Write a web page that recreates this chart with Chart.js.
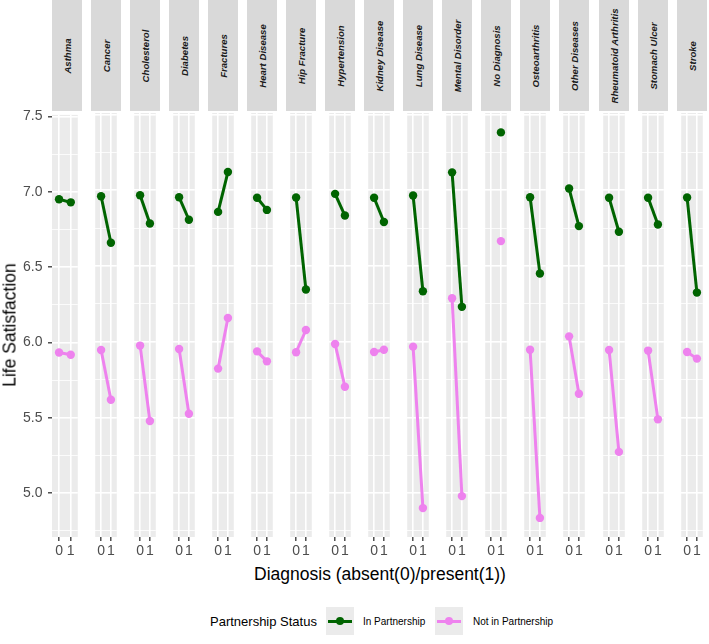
<!DOCTYPE html>
<html><head><meta charset="utf-8">
<script src="https://cdn.jsdelivr.net/npm/chart.js@4.4.0/dist/chart.umd.min.js"></script>
<style>
body{margin:0;background:#fff;overflow:hidden;font-family:"Liberation Sans",Arial,sans-serif;}
#wrap{position:relative;width:709px;height:644px;background:#fff;}
.strip{position:absolute;top:0;height:111px;background:#D9D9D9;}
.strip span{position:absolute;left:50%;top:50%;transform:translate(-50%,-50%) rotate(-90deg);white-space:nowrap;font-style:italic;font-weight:bold;font-size:9.6px;color:#1A1A1A;}
canvas{position:absolute;}
.ctr{position:absolute;white-space:nowrap;transform:translate(-50%,-50%);}
.lab{position:absolute;white-space:nowrap;transform:translateY(-50%);}
.key{position:absolute;width:28px;height:28px;background:#EBEBEB;}
.key .ln{position:absolute;left:2px;right:2px;top:12.5px;height:3px;}
.key .pt{position:absolute;left:9.8px;top:9.8px;width:8.4px;height:8.4px;border-radius:50%;}
</style>
</head>
<body>
<div id="wrap"></div>
<script>
// ---- data ----
const diagnoses = ["Asthma","Cancer","Cholesterol","Diabetes","Fractures","Heart Disease","Hip Fracture","Hypertension","Kidney Disease","Lung Disease","Mental Disorder","No Diagnosis","Osteoarthritis","Other Diseases","Rheumatoid Arthritis","Stomach Ulcer","Stroke"];
const xLevels = [0, 1];
const xTickLabels = ["0", "1"];
const seriesNames = ["In Partnership", "Not in Partnership"];
const inPartnershipAbsent  = [6.950,6.960,6.967,6.954,6.857,6.950,6.952,6.976,6.950,6.965,7.118,null,6.954,7.011,6.950,6.950,6.952];
const inPartnershipPresent = [6.930,6.653,6.780,6.805,7.120,6.870,6.344,6.833,6.790,6.333,6.230,7.382,6.450,6.763,6.726,6.774,6.324];
const notPartnershipAbsent  = [5.934,5.945,5.974,5.952,5.822,5.936,5.930,5.985,5.932,5.967,6.287,null,5.947,6.035,5.945,5.941,5.932];
const notPartnershipPresent = [5.919,5.616,5.476,5.524,6.156,5.870,6.077,5.702,5.947,4.901,4.980,6.664,4.836,5.656,5.272,5.487,5.888];
const yMajorTicks = [5.0, 5.5, 6.0, 6.5, 7.0, 7.5];
const yMinorTicks = [4.75, 5.25, 5.75, 6.25, 6.75, 7.25];
const yLimits = [4.71, 7.51];
const xLimits = [-0.6, 1.6];

// ---- layout ----
const FONT = '"Liberation Sans", Arial, sans-serif';
const GREEN = '#006400', VIOLET = '#EE82EE';
const PANEL_TOP = 113, PANEL_H = 424, PANEL_W = 30;
const FIRST_LEFT = 51.7, STEP = 39.06;
const PAD_T = 12, XAXIS_H = 26, YAXIS_W = 52;
const wrap = document.getElementById('wrap');
const isMajor = v => yMajorTicks.some(m => Math.abs(m - v) < 1e-9);

const bgPlugin = {
  id: 'panelBg',
  beforeDraw(chart) {
    const a = chart.chartArea, c = chart.ctx;
    c.save(); c.fillStyle = '#EBEBEB';
    c.fillRect(a.left, a.top, a.right - a.left, a.bottom - a.top);
    c.restore();
  }
};

function pts(abs, pres, i) {
  const vals = [abs[i], pres[i]];
  return xLevels.map((x, k) => ({x: x, y: vals[k]})).filter(p => p.y !== null);
}

diagnoses.forEach((name, i) => {
  const left = Math.round(FIRST_LEFT + i * STEP);
  // strip
  const s = document.createElement('div');
  s.className = 'strip';
  s.style.left = left + 'px'; s.style.width = PANEL_W + 'px';
  const sp = document.createElement('span'); sp.textContent = name;
  s.appendChild(sp); wrap.appendChild(s);

  const first = i === 0;
  const cv = document.createElement('canvas');
  const w = PANEL_W + (first ? YAXIS_W : 0), h = PAD_T + PANEL_H + XAXIS_H;
  cv.width = w; cv.height = h;
  cv.style.width = w + 'px'; cv.style.height = h + 'px';
  cv.style.left = (left - (first ? YAXIS_W : 0)) + 'px';
  cv.style.top = (PANEL_TOP - PAD_T) + 'px';
  wrap.appendChild(cv);

  const ds = (label, color, a, b) => ({
    label, data: pts(a, b, i), showLine: true,
    borderColor: color, backgroundColor: color, borderWidth: 3,
    pointRadius: 4.2, pointHoverRadius: 4.2, pointBorderWidth: 0, clip: false
  });

  new Chart(cv, {
    type: 'scatter',
    data: { datasets: [
      ds(seriesNames[0], GREEN, inPartnershipAbsent, inPartnershipPresent),
      ds(seriesNames[1], VIOLET, notPartnershipAbsent, notPartnershipPresent)
    ]},
    options: {
      responsive: false, animation: false, devicePixelRatio: 1, events: [],
      layout: { padding: { top: PAD_T, left: 0, right: 0, bottom: 0 } },
      plugins: { legend: { display: false }, tooltip: { enabled: false } },
      scales: {
        x: {
          type: 'linear', min: xLimits[0], max: xLimits[1],
          afterBuildTicks: sc => { sc.ticks = xLevels.map(v => ({value: v})); },
          afterFit: sc => { sc.height = XAXIS_H; },
          border: { display: false },
          grid: { color: '#FFFFFF', lineWidth: 1.6, tickLength: 4, tickColor: '#333333', tickWidth: 1.3 },
          ticks: { autoSkip: false, maxRotation: 0, minRotation: 0, padding: 2, color: '#4D4D4D',
                   font: { family: FONT, size: 14 },
                   callback: v => xTickLabels[xLevels.indexOf(v)] }
        },
        y: {
          type: 'linear', min: yLimits[0], max: yLimits[1],
          afterBuildTicks: sc => { sc.ticks = yMinorTicks.concat(yMajorTicks).sort((a,b)=>a-b).map(v => ({value: v})); },
          afterFit: sc => { sc.width = first ? YAXIS_W : 0; },
          border: { display: false },
          grid: {
            color: '#FFFFFF',
            lineWidth: c => (c.tick && isMajor(c.tick.value)) ? 1.6 : 0.8,
            drawTicks: first, tickLength: 4, tickWidth: 1.3,
            tickColor: c => (c.tick && isMajor(c.tick.value)) ? '#333333' : 'rgba(0,0,0,0)'
          },
          ticks: { display: first, padding: 5.5, color: '#4D4D4D', font: { family: FONT, size: 14 },
                   callback: v => isMajor(v) ? v.toFixed(1) : '' }
        }
      }
    },
    plugins: [bgPlugin]
  });
});

// axis titles
function addText(cls, text, x, y, css) {
  const d = document.createElement('div');
  d.className = cls; d.textContent = text;
  d.style.left = x + 'px'; d.style.top = y + 'px';
  Object.assign(d.style, css || {});
  wrap.appendChild(d); return d;
}
addText('ctr', 'Diagnosis (absent(0)/present(1))', 380, 574, {fontSize: '17.5px', color: '#000'});
addText('ctr', 'Life Satisfaction', 9.5, 325, {fontSize: '17.5px', color: '#000', transform: 'translate(-50%,-50%) rotate(-90deg)'});

// legend
addText('lab', 'Partnership Status', 210, 621, {fontSize: '13px', color: '#000'});
function addKey(x, color, label, lx) {
  const k = document.createElement('div');
  k.className = 'key'; k.style.left = x + 'px'; k.style.top = '607px';
  const ln = document.createElement('div'); ln.className = 'ln'; ln.style.background = color;
  const pt = document.createElement('div'); pt.className = 'pt'; pt.style.background = color;
  k.appendChild(ln); k.appendChild(pt); wrap.appendChild(k);
  addText('lab', label, lx, 621, {fontSize: '10px', color: '#000'});
}
addKey(326, GREEN, seriesNames[0], 363);
addKey(435, VIOLET, seriesNames[1], 473);
</script>
</body></html>
